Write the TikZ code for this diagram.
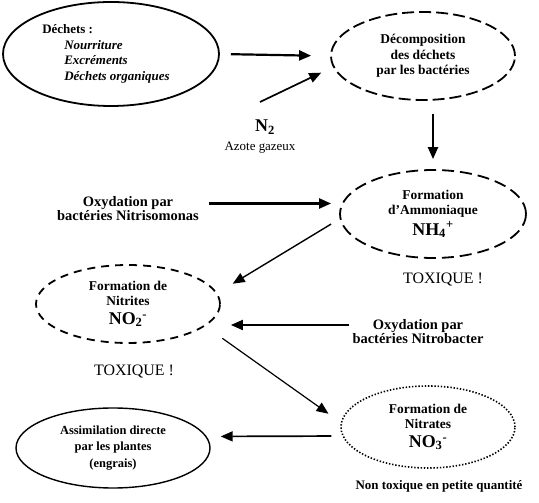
\documentclass[tikz,border=0pt]{standalone}
\usepackage{fontspec}
\setmainfont{Liberation Serif}
\usepackage{tikz}
\usetikzlibrary{arrows.meta,shapes}

\begin{document}
\begin{tikzpicture}[>={Triangle[length=12bp,width=10bp]},line join=bevel,
  bubble/.style={draw,ellipse,inner sep=0pt,line width=1.8bp,align=center,
    font=\fontsize{13.5}{15.5}\selectfont\bfseries},
  lbl/.style={align=center,inner sep=1bp,font=\fontsize{14.5}{14.5}\selectfont\bfseries},
  note/.style={inner sep=1bp,font=\fontsize{16}{17}\selectfont},
  flow/.style={->,line width=2.2bp}]
%%
\begin{scope}
  \definecolor{fillcol}{rgb}{1.0,1.0,1.0};
  \pgfsetfillcolor{fillcol}
  \fill (0.0bp,0.0bp) -- (0.0bp,503.0bp) -- (539.0bp,503.0bp) -- (539.0bp,0.0bp) -- cycle;
\end{scope}
  \node (dechets) at (111.0bp,449.0bp) [bubble,minimum width=216bp,minimum height=104bp,
    align=left,font=\fontsize{13}{15.5}\selectfont\bfseries]
    {Déchets :\\\hspace*{22bp}\textit{Nourriture}\\\hspace*{22bp}\textit{Excréments}\\\hspace*{22bp}\textit{Déchets organiques}\hspace*{10bp}};
  \node (decomp) at (423.0bp,447.0bp) [bubble,minimum width=184bp,minimum height=88bp,
    dash pattern=on 12bp off 5bp] {Décomposition\\des déchets\\par les bactéries};
  \node (ammon) at (433.0bp,289.0bp) [bubble,minimum width=186bp,minimum height=88bp,
    dash pattern=on 12bp off 6bp]
    {Formation\\d'Ammoniaque\\[3bp]{\fontsize{18}{18}\selectfont NH\textsubscript{4}\textsuperscript{+}}};
  \node (nitrites) at (128.0bp,199.0bp) [bubble,minimum width=184bp,minimum height=78bp,
    dash pattern=on 8bp off 6bp]
    {Formation de\\Nitrites\\[3bp]{\fontsize{18}{18}\selectfont NO\textsubscript{2}\textsuperscript{-}}};
  \node (nitrates) at (428.0bp,76.0bp) [bubble,minimum width=174bp,minimum height=82bp,
    line width=1.6bp,dash pattern=on 1.4bp off 1.8bp]
    {Formation de\\Nitrates\\[3bp]{\fontsize{18}{18}\selectfont NO\textsubscript{3}\textsuperscript{-}}};
  \node (assim) at (113.0bp,55.0bp) [bubble,minimum width=194bp,minimum height=80bp,
    line width=1.4bp,font=\fontsize{12.5}{16.5}\selectfont\bfseries]
    {Assimilation directe\\par les plantes\\(engrais)};
  \node (ntwo) at (265.0bp,376.0bp) [inner sep=1bp,font=\fontsize{18}{18}\selectfont\bfseries] {N\textsubscript{2}};
  \node (azote) at (260.0bp,355.0bp) [inner sep=1bp,font=\fontsize{13}{14}\selectfont] {Azote gazeux};
  \node (nitroso) at (128.0bp,294.5bp) [lbl] {Oxydation par\\bactéries Nitrisomonas};
  \node (nitrobact) at (418.0bp,171.5bp) [lbl] {Oxydation par\\bactéries Nitrobacter};
  \node (toxa) at (443.0bp,223.0bp) [note] {TOXIQUE !};
  \node (toxb) at (134.0bp,131.0bp) [note] {TOXIQUE !};
  \node (nontox) at (439.0bp,17.0bp) [lbl,font=\fontsize{13}{14}\selectfont\bfseries] {Non toxique en petite quantité};
  \coordinate (ntail) at (260.0bp,401.0bp);
%
  \draw [flow,shorten <=11bp,shorten >=19bp] (dechets.east) -- (decomp.west);
  \draw [flow,line width=1.7bp,shorten >=13bp] (ntail) -- (decomp.187);
  \draw [flow,shorten <=13bp,shorten >=10bp] (decomp.south -| ammon.north) -- (ammon.north);
  \draw [flow,shorten <=9bp,shorten >=8bp] ([yshift=5bp]nitroso.east) -- ([yshift=5bp]nitroso.east -| ammon.west);
  \draw [flow,line width=1.4bp,shorten <=10bp,shorten >=18bp] (ammon.183) -- (nitrites.7);
  \draw [flow,line width=2bp,shorten <=2bp,shorten >=10bp] ([yshift=6.5bp]nitrobact.west) -- ([yshift=6.5bp]nitrobact.west -| nitrites.east);
  \draw [flow,line width=1.2bp,shorten <=21bp,shorten >=15bp] (nitrites.344) -- (nitrates.177);
  \draw [flow,line width=1.7bp,shorten <=11bp,shorten >=14bp] (nitrates.186) -- (assim.7);
%
\end{tikzpicture}
\end{document}
